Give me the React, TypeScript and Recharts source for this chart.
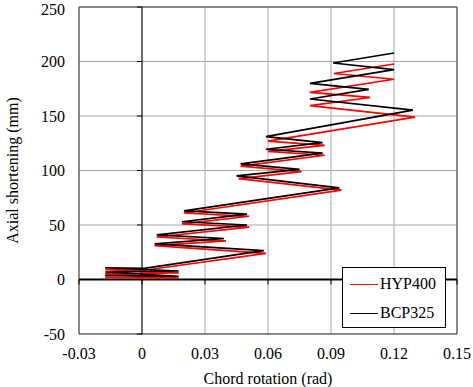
import React from 'react';
import {
  LineChart,
  Line,
  XAxis,
  YAxis,
  CartesianGrid,
  ReferenceLine,
  ReferenceArea,
  Legend,
} from 'recharts';

// peak points, chord rotation (rad) vs axial shortening (mm)
const hypX = [
  -0.0175, 0.0175, -0.0175, 0.0175, -0.0175, 0.001, 0.059, 0.006, 0.04, 0.007,
  0.051, 0.019, 0.051, 0.02, 0.095, 0.046, 0.076, 0.047, 0.087, 0.06, 0.087,
  0.06, 0.13, 0.08, 0.1086, 0.08, 0.12, 0.0914, 0.12,
];
const hypY = [
  1.8, 1.2, 5.2, 6.0, 9.0, 8.5, 24, 31, 35.5, 39, 48, 51, 58, 61, 82, 92.5, 99,
  104, 114, 117.5, 123, 127, 149, 159.5, 167, 171.7, 183.7, 189, 197.7,
];
const bcpX = [
  -0.0175, 0.0175, -0.0175, 0.0175, -0.0175, 0.001, 0.058, 0.006, 0.039, 0.007,
  0.05, 0.019, 0.05, 0.02, 0.094, 0.045, 0.075, 0.047, 0.086, 0.059, 0.086,
  0.059, 0.129, 0.08, 0.108, 0.08, 0.12, 0.091, 0.12,
];
const bcpY = [
  3.5, 3.0, 6.9, 7.8, 10.8, 10.2, 26.5, 32.6, 37.6, 41, 50, 53, 60, 63, 84, 95,
  101, 106, 116, 119.5, 125.5, 131, 155.4, 165.6, 174.5, 180, 192.5, 198.6,
  207.8,
];

const xTicks = [-0.03, 0, 0.03, 0.06, 0.09, 0.12, 0.15];
const yTicks = [-50, 0, 50, 100, 150, 200, 250];

const series = [
  { name: 'HYP400', color: '#ff0000', data: hypX.map((x, i) => ({ x, y: hypY[i] })) },
  { name: 'BCP325', color: '#000000', data: bcpX.map((x, i) => ({ x, y: bcpY[i] })) },
];

const font = 'Liberation Serif';

function LegendBox() {
  return (
    <div
      style={{
        border: '1px solid #000',
        background: '#fff',
        width: 104,
        height: 61,
        boxSizing: 'border-box',
        fontFamily: font,
        fontSize: 16,
        color: '#000',
        paddingTop: 4,
      }}
    >
      {series.map((s) => (
        <div key={s.name} style={{ display: 'flex', alignItems: 'center', height: 24, marginBottom: 5 }}>
          <div style={{ width: 28, height: 0, borderTop: `1.5px solid ${s.color}`, marginLeft: 7, marginRight: 2 }} />
          <span>{s.name}</span>
        </div>
      ))}
    </div>
  );
}

export default function App() {
  return (
    <div style={{ position: 'absolute', left: 0, top: 0, background: '#fff', fontFamily: font }}>
      <LineChart width={473} height={387} margin={{ top: 7, right: 16, left: 0, bottom: 0 }}>
        <CartesianGrid stroke="#a6a6a6" strokeWidth={1} />
        <XAxis
          type="number"
          dataKey="x"
          domain={[-0.03, 0.15]}
          ticks={xTicks}
          tickFormatter={(v: number) => (v === 0 ? '0' : String(v))}
          height={53}
          axisLine={false}
          tickLine={false}
          tickMargin={8}
          tick={{ fill: '#000', fontSize: 16, fontFamily: font }}
          label={{
            value: 'Chord rotation (rad)',
            position: 'insideBottom',
            offset: 3,
            fill: '#000',
            fontSize: 16,
            fontFamily: font,
          }}
        />
        <YAxis
          type="number"
          domain={[-50, 250]}
          ticks={yTicks}
          width={79}
          axisLine={false}
          tickLine={false}
          tickMargin={8}
          tick={{ fill: '#000', fontSize: 16, fontFamily: font }}
          label={{
            content: (props: any) => {
              const vb = props.viewBox;
              const cx = vb.x + 12;
              const cy = vb.y + vb.height / 2;
              return (
                <text
                  x={cx}
                  y={cy}
                  transform={`rotate(-90, ${cx}, ${cy})`}
                  textAnchor="middle"
                  dominantBaseline="central"
                  fill="#000"
                  fontSize={16}
                  fontFamily={font}
                >
                  Axial shortening (mm)
                </text>
              );
            },
          }}
        />
        <ReferenceArea x1={-0.03} x2={0.15} y1={-50} y2={250} fill="none" stroke="#404040" strokeWidth={1} />
        {yTicks.map((t) => (
          <ReferenceLine
            key={'yt' + t}
            segment={[{ x: -0.0024, y: t }, { x: 0, y: t }]}
            stroke="#000"
            strokeWidth={1}
          />
        ))}
        {xTicks.map((t) => (
          <ReferenceLine
            key={'xt' + t}
            segment={[{ x: t, y: 0 }, { x: t, y: -4.6 }]}
            stroke="#000"
            strokeWidth={1}
          />
        ))}
        <ReferenceLine x={0} stroke="#000" strokeWidth={1} />
        <ReferenceLine y={0} stroke="#000" strokeWidth={2} />
        {series.map((s) => (
          <Line
            key={s.name}
            data={s.data}
            dataKey="y"
            name={s.name}
            type="linear"
            stroke={s.color}
            strokeWidth={1.7}
            dot={false}
            isAnimationActive={false}
          />
        ))}
        <Legend
          layout="horizontal"
          verticalAlign="middle"
          align="center"
          wrapperStyle={{ left: 342, top: 267, width: 104, height: 61 }}
          content={() => <LegendBox />}
        />
      </LineChart>
    </div>
  );
}
